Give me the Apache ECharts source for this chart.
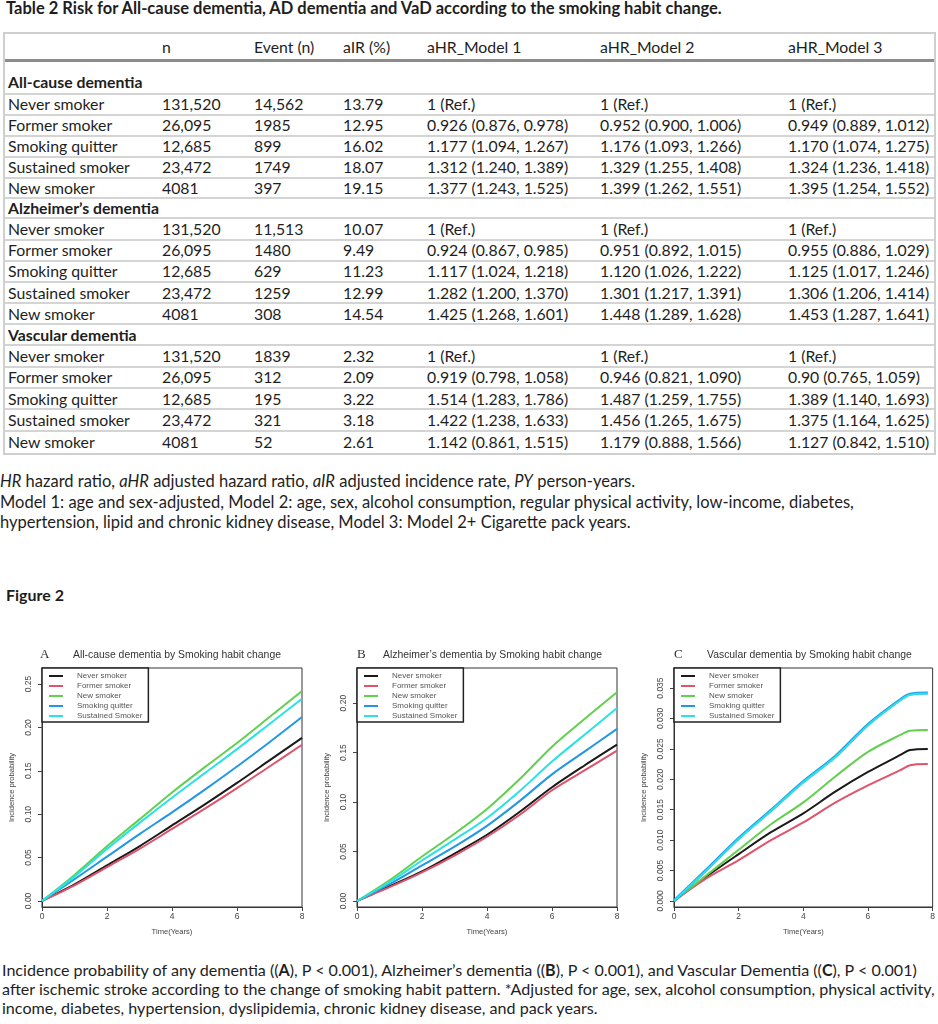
<!DOCTYPE html>
<html><head><meta charset="utf-8">
<script src="https://cdn.jsdelivr.net/npm/echarts@6/dist/echarts.min.js"></script>
<style>
body{margin:0;background:#fff;width:938px;height:1024px;position:relative;overflow:hidden;font-family:Lato,'Open Sans',sans-serif;color:#1e1e1e;}
#ttl{position:absolute;left:6px;top:-1px;font-weight:bold;font-size:16.5px;line-height:19px;white-space:nowrap;}
#tbl{position:absolute;left:3px;top:32px;width:933px;border:2px solid #cfcfcf;box-sizing:border-box;font-size:15.8px;}
.row{position:relative;box-sizing:border-box;border-bottom:2px solid #d4d4d4;}
.row span{position:absolute;white-space:nowrap;top:50%;transform:translateY(-50%);line-height:18px;}
.hdr{border-bottom:3px solid #8c8c8c;}
.sec span{font-weight:bold;}
.last{border-bottom:none;}
#foot{position:absolute;left:0;top:471px;font-size:16.5px;line-height:20.5px;white-space:nowrap;}
#fig{position:absolute;left:6px;top:585px;font-size:16px;font-weight:bold;line-height:20px;}
#chart{position:absolute;left:0;top:620px;width:938px;height:330px;}
#cap{position:absolute;left:2px;top:960px;font-size:16.1px;line-height:19px;white-space:nowrap;}
</style></head>
<body>
<div id="ttl">Table 2 Risk for All-cause dementia, AD dementia and VaD according to the smoking habit change.</div>
<div id="tbl"></div>
<div id="foot"><i>HR</i> hazard ratio, <i>aHR</i> adjusted hazard ratio, <i>aIR</i> adjusted incidence rate, <i>PY</i> person-years.<br>Model 1: age and sex-adjusted, Model 2: age, sex, alcohol consumption, regular physical activity, low-income, diabetes,<br>hypertension, lipid and chronic kidney disease, Model 3: Model 2+ Cigarette pack years.</div>
<div id="fig">Figure 2</div>
<div id="chart"></div>
<div id="cap">Incidence probability of any dementia ((<b>A</b>), P &lt; 0.001), Alzheimer’s dementia ((<b>B</b>), P &lt; 0.001), and Vascular Dementia ((<b>C</b>), P &lt; 0.001)<br>after ischemic stroke according to the change of smoking habit pattern. *Adjusted for age, sex, alcohol consumption, physical activity,<br>income, diabetes, hypertension, dyslipidemia, chronic kidney disease, and pack years.</div>
<script>
// ---------- table data ----------
const tableColumns = ['', 'n', 'Event (n)', 'aIR (%)', 'aHR_Model 1', 'aHR_Model 2', 'aHR_Model 3'];
const sectionNames = ['All-cause dementia', 'Alzheimer’s dementia', 'Vascular dementia'];
const groupNames = ['Never smoker', 'Former smoker', 'Smoking quitter', 'Sustained smoker', 'New smoker'];
const nValues = ['131,520', '26,095', '12,685', '23,472', '4081'];
const eventsAll = ['14,562', '1985', '899', '1749', '397'];
const eventsAD = ['11,513', '1480', '629', '1259', '308'];
const eventsVaD = ['1839', '312', '195', '321', '52'];
const airAll = ['13.79', '12.95', '16.02', '18.07', '19.15'];
const airAD = ['10.07', '9.49', '11.23', '12.99', '14.54'];
const airVaD = ['2.32', '2.09', '3.22', '3.18', '2.61'];
const m1All = ['1 (Ref.)', '0.926 (0.876, 0.978)', '1.177 (1.094, 1.267)', '1.312 (1.240, 1.389)', '1.377 (1.243, 1.525)'];
const m2All = ['1 (Ref.)', '0.952 (0.900, 1.006)', '1.176 (1.093, 1.266)', '1.329 (1.255, 1.408)', '1.399 (1.262, 1.551)'];
const m3All = ['1 (Ref.)', '0.949 (0.889, 1.012)', '1.170 (1.074, 1.275)', '1.324 (1.236, 1.418)', '1.395 (1.254, 1.552)'];
const m1AD = ['1 (Ref.)', '0.924 (0.867, 0.985)', '1.117 (1.024, 1.218)', '1.282 (1.200, 1.370)', '1.425 (1.268, 1.601)'];
const m2AD = ['1 (Ref.)', '0.951 (0.892, 1.015)', '1.120 (1.026, 1.222)', '1.301 (1.217, 1.391)', '1.448 (1.289, 1.628)'];
const m3AD = ['1 (Ref.)', '0.955 (0.886, 1.029)', '1.125 (1.017, 1.246)', '1.306 (1.206, 1.414)', '1.453 (1.287, 1.641)'];
const m1VaD = ['1 (Ref.)', '0.919 (0.798, 1.058)', '1.514 (1.283, 1.786)', '1.422 (1.238, 1.633)', '1.142 (0.861, 1.515)'];
const m2VaD = ['1 (Ref.)', '0.946 (0.821, 1.090)', '1.487 (1.259, 1.755)', '1.456 (1.265, 1.675)', '1.179 (0.888, 1.566)'];
const m3VaD = ['1 (Ref.)', '0.90 (0.765, 1.059)', '1.389 (1.140, 1.693)', '1.375 (1.164, 1.625)', '1.127 (0.842, 1.510)'];

// ---------- chart data ----------
const seriesNames = ['Never smoker', 'Former smoker', 'New smoker', 'Smoking quitter', 'Sustained Smoker'];
const yearsAB = [0, 1, 2, 3, 4, 5, 6, 7, 8];
const aNever = [0, 0.019, 0.041, 0.063, 0.087, 0.111, 0.136, 0.162, 0.188];
const aFormer = [0, 0.018, 0.039, 0.060, 0.083, 0.106, 0.130, 0.155, 0.180];
const aNew = [0, 0.030, 0.063, 0.094, 0.125, 0.154, 0.182, 0.212, 0.242];
const aQuitter = [0, 0.025, 0.051, 0.077, 0.102, 0.128, 0.155, 0.183, 0.212];
const aSustained = [0, 0.028, 0.060, 0.090, 0.119, 0.147, 0.175, 0.204, 0.233];
const bNever = [0, 0.015, 0.030, 0.048, 0.067, 0.090, 0.115, 0.137, 0.158];
const bFormer = [0, 0.014, 0.029, 0.046, 0.065, 0.087, 0.112, 0.132, 0.152];
const bNew = [0, 0.021, 0.045, 0.068, 0.093, 0.123, 0.156, 0.184, 0.211];
const bQuitter = [0, 0.017, 0.036, 0.055, 0.076, 0.101, 0.128, 0.151, 0.174];
const bSustained = [0, 0.019, 0.041, 0.062, 0.084, 0.111, 0.141, 0.168, 0.195];
const yearsC = [0, 1, 2, 3, 4, 5, 6, 7, 7.3, 7.85];
const cNever = [0, 0.0040, 0.0077, 0.0113, 0.0144, 0.0180, 0.0212, 0.0240, 0.0248, 0.0250];
const cFormer = [0, 0.0037, 0.0067, 0.0100, 0.0129, 0.0162, 0.0190, 0.0215, 0.0223, 0.0225];
const cNew = [0, 0.0042, 0.0084, 0.0126, 0.0162, 0.0205, 0.0245, 0.0273, 0.0280, 0.0281];
const cQuitter = [0, 0.0051, 0.0103, 0.0149, 0.0196, 0.0238, 0.0290, 0.0331, 0.0340, 0.0342];
const cSustained = [0, 0.0050, 0.0102, 0.0148, 0.0195, 0.0237, 0.0289, 0.0330, 0.0339, 0.0341];
const xTicks = [0, 2, 4, 6, 8];
const yTicksA = [0, 0.05, 0.10, 0.15, 0.20, 0.25];
const yTicksB = [0, 0.05, 0.10, 0.15, 0.20];
const yTicksC = [0, 0.005, 0.010, 0.015, 0.020, 0.025, 0.030, 0.035];
const panelLetters = ['A', 'B', 'C'];
const panelTitles = ['All-cause dementia by Smoking habit change', 'Alzheimer’s dementia by Smoking habit change', 'Vascular dementia by Smoking habit change'];

// ---------- build table ----------
const colX = [3, 157, 249, 338, 422, 595, 783];
const tbl = document.getElementById('tbl');
function addRow(cells, cls, h) {
  const r = document.createElement('div');
  r.className = 'row ' + (cls || '');
  r.style.height = h + 'px';
  cells.forEach((c, i) => {
    if (c === '' || c == null) return;
    const s = document.createElement('span');
    s.textContent = c;
    s.style.left = colX[i] + 'px';
    r.appendChild(s);
  });
  tbl.appendChild(r);
  return r;
}
addRow(tableColumns, 'hdr', 28);
const secData = [
  [eventsAll, airAll, m1All, m2All, m3All],
  [eventsAD, airAD, m1AD, m2AD, m3AD],
  [eventsVaD, airVaD, m1VaD, m2VaD, m3VaD]
];
const secH = [33, 20, 21];
const rowH = [20.9, 21.2, 21.3];
secData.forEach((d, si) => {
  const sr = addRow([sectionNames[si]], 'sec', secH[si]);
  if (si === 0) { sr.querySelector('span').style.top = '64%'; }
  groupNames.forEach((g, gi) => {
    addRow([g, nValues[gi], d[0][gi], d[1][gi], d[2][gi], d[3][gi], d[4][gi]],
      (si === 2 && gi === 4) ? 'last' : '', rowH[si]);
  });
});

// ---------- chart ----------
const colors = ['#1a1a1a', '#DF536B', '#61D04F', '#2297E6', '#28E2E5'];
const panelData = [
  [aNever, aFormer, aNew, aQuitter, aSustained],
  [bNever, bFormer, bNew, bQuitter, bSustained],
  [cNever, cFormer, cNew, cQuitter, cSustained]
];
const panelYears = [yearsAB, yearsAB, yearsC];
const gridLeft = [42, 357, 674];
const gridWidth = [260, 260, 259];
const letterLeft = [35, 352, 669];
const titleLeft = [68, 378, 702];
const yMin = [-0.007, -0.006, -0.001];
const yMax = [0.2685, 0.2355, 0.0383];
const yTicks = [yTicksA, yTicksB, yTicksC];
const yDec = [2, 2, 3];
const txt = '#444';
const font = 'Liberation Sans';

const option = {
  animation: false,
  title: [],
  legend: [],
  grid: [],
  xAxis: [],
  yAxis: [],
  series: []
};
for (let p = 0; p < 3; p++) {
  option.title.push({
    text: panelLetters[p], left: letterLeft[p], top: 23,
    textStyle: { fontFamily: 'Liberation Serif', fontSize: 13, fontWeight: 'normal', color: '#333' }
  });
  option.title.push({
    text: panelTitles[p], left: titleLeft[p], top: 25,
    textStyle: { fontFamily: font, fontSize: 10.4, fontWeight: 'normal', color: '#333' }
  });
  option.grid.push({ left: gridLeft[p], top: 48, width: gridWidth[p], height: 239, show: true, borderColor: '#333', borderWidth: 1, containLabel: false });
  option.legend.push({
    data: seriesNames, left: gridLeft[p], top: 48, orient: 'vertical',
    icon: 'rect', itemWidth: 14, itemHeight: 2, itemGap: 0,
    padding: [3, 6, 1, 7], borderColor: '#222', borderWidth: 1.5, backgroundColor: '#fff',
    textStyle: { fontFamily: font, fontSize: 8, color: '#555', lineHeight: 10, padding: [0, 0, 0, 9] },
    selectedMode: false
  });
  option.xAxis.push({
    type: 'value', gridIndex: p, min: 0, max: 8, interval: 2,
    axisLine: { show: true, onZero: false, lineStyle: { color: '#333', width: 1 } },
    axisTick: { show: true, length: 4, lineStyle: { color: '#444' }, customValues: xTicks },
    axisLabel: { fontFamily: font, fontSize: 8.5, color: txt, margin: 5, customValues: xTicks },
    splitLine: { show: false },
    name: 'Time(Years)', nameLocation: 'middle', nameGap: 21,
    nameTextStyle: { fontFamily: font, fontSize: 7.6, color: txt }
  });
  const dec = yDec[p];
  option.yAxis.push({
    type: 'value', gridIndex: p, min: yMin[p], max: yMax[p],
    axisLine: { show: true, lineStyle: { color: '#333', width: 1 } },
    axisTick: { show: true, length: 4, lineStyle: { color: '#444' }, customValues: yTicks[p] },
    axisLabel: { fontFamily: font, fontSize: 8.5, color: txt, rotate: 90, margin: 9, customValues: yTicks[p], formatter: v => v.toFixed(dec) },
    splitLine: { show: false },
    name: 'Incidence probability', nameLocation: 'middle', nameGap: 26, nameRotate: 90,
    nameTextStyle: { fontFamily: font, fontSize: 7.6, color: txt }
  });
  panelData[p].forEach((vals, si) => {
    option.series.push({
      name: seriesNames[si], type: 'line', xAxisIndex: p, yAxisIndex: p,
      showSymbol: false, symbol: 'none', smooth: 0.3,
      lineStyle: { width: (p === 2 && si === 3) ? 3 : 2, color: colors[si] },
      itemStyle: { color: colors[si] },
      data: panelYears[p].map((x, i) => [x, vals[i]])
    });
  });
}
const chart = echarts.init(document.getElementById('chart'), null, { renderer: 'canvas' });
chart.setOption(option);
</script>
</body></html>
